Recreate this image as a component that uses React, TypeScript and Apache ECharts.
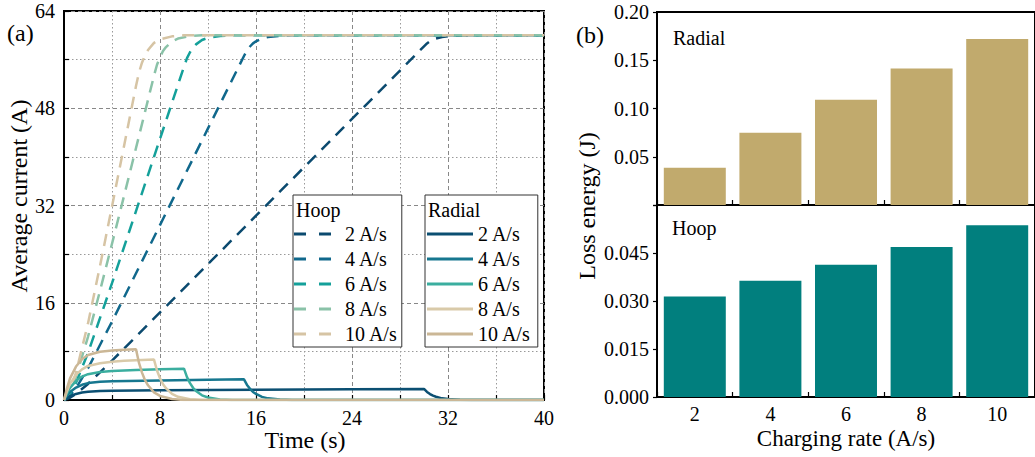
import React, { useEffect, useRef } from "react";
import * as echarts from "echarts";

const FONT = "'Liberation Serif', 'Times New Roman', Tinos, 'DejaVu Serif', serif";

// Left panel (a): time in s, average current in A
const rateLabels = ["2 A/s", "4 A/s", "6 A/s", "8 A/s", "10 A/s"];

const hoop2: number[][] = [[0,0],[0.5,0.36],[1,1.0],[2,2.64],[4,6.47],[8,14.4],[16,30.32],[24,46.24],[30,58.18],[30.25,58.67],[30.5,59.02],[30.75,59.29],[31,59.47],[31.5,59.73],[32,59.85],[33,59.96],[34,60],[40,60]];
const hoop4: number[][] = [[0,0],[0.5,0.7],[1,1.95],[2,5.22],[4,12.9],[8,28.78],[12,44.68],[15,56.6],[15.25,57.52],[15.5,58.16],[15.75,58.67],[16,59.01],[16.5,59.49],[17,59.73],[18,59.93],[19,60],[40,60]];
const hoop6: number[][] = [[0,0],[0.5,1.0],[1,2.85],[2,7.75],[4,19.22],[6,31.08],[8,42.96],[10,54.85],[10.25,56.24],[10.5,57.22],[10.75,57.99],[11,58.51],[11.5,59.23],[12,59.59],[13,59.9],[14,60],[40,60]];
const hoop8: number[][] = [[0,0],[0.5,1.35],[1,3.85],[2,10.4],[3,17.95],[4,25.7],[5,33.55],[6,41.45],[7.5,53.35],[7.75,55.15],[8,56.41],[8.25,57.41],[8.5,58.07],[9,59.0],[9.5,59.47],[10.5,59.87],[11.5,60],[40,60]];
const hoop10: number[][] = [[0,0],[0.5,1.45],[1,4.5],[2,12.6],[3,22.05],[4,31.85],[5,41.75],[6,51.65],[6.25,53.9],[6.5,55.49],[6.75,56.74],[7,57.58],[7.5,58.75],[8,59.33],[9,59.83],[10,60],[40,60]];

const radial2: number[][] = [[0,0],[0.25,0.35],[0.5,0.64],[1,1.0],[1.5,1.22],[2,1.36],[3,1.48],[4,1.53],[8,1.6],[16,1.68],[24,1.76],[30,1.82],[30.25,1.33],[30.5,0.98],[30.75,0.71],[31,0.53],[31.5,0.27],[32,0.15],[33,0.04],[34,0],[40,0]];
const radial4: number[][] = [[0,0],[0.25,0.72],[0.5,1.3],[1,2.05],[1.5,2.5],[2,2.78],[3,3.0],[4,3.1],[8,3.22],[12,3.32],[15,3.4],[15.25,2.48],[15.5,1.84],[15.75,1.33],[16,0.99],[16.5,0.51],[17,0.27],[18,0.07],[19,0],[40,0]];
const radial6: number[][] = [[0,0],[0.25,1.1],[0.5,2.0],[1,3.15],[1.5,3.85],[2,4.25],[3,4.62],[4,4.78],[6,4.92],[8,5.04],[10,5.15],[10.25,3.76],[10.5,2.78],[10.75,2.01],[11,1.49],[11.5,0.77],[12,0.41],[13,0.1],[14,0],[40,0]];
const radial8: number[][] = [[0,0],[0.25,1.45],[0.5,2.65],[1,4.15],[1.5,5.05],[2,5.6],[3,6.05],[4,6.3],[5,6.45],[6,6.55],[7.5,6.65],[7.75,4.85],[8,3.59],[8.25,2.59],[8.5,1.93],[9,1.0],[9.5,0.53],[10.5,0.13],[11.5,0],[40,0]];
const radial10: number[][] = [[0,0],[0.25,1.95],[0.5,3.55],[1,5.5],[1.5,6.7],[2,7.4],[3,7.95],[4,8.15],[5,8.25],[6,8.35],[6.25,6.1],[6.5,4.51],[6.75,3.26],[7,2.42],[7.5,1.25],[8,0.67],[9,0.17],[10,0],[40,0]];

const hoopData = [hoop2, hoop4, hoop6, hoop8, hoop10];
const radialData = [radial2, radial4, radial6, radial8, radial10];
const hoopColors = ["#0B4A6F", "#10688C", "#14A09A", "#8AC2A8", "#D6C4A4"];
const radialColors = ["#0B4F72", "#16778F", "#3BAE9F", "#D9CAA9", "#CBB796"];

// Right panel (b): loss energy in J
const chargingRates = ["2", "4", "6", "8", "10"];
const radialLoss = [0.0385, 0.075, 0.109, 0.1415, 0.172];
const hoopLoss = [0.0314, 0.0363, 0.0413, 0.0469, 0.0537];

export default function App() {
  const ref = useRef<HTMLDivElement>(null);
  useEffect(() => {
    if (!ref.current) return;
    const chart = echarts.init(ref.current, undefined, { renderer: "svg" });
    const txt = (size: number) => ({ fontFamily: FONT, fontSize: size, color: "#000" });
    const gtxt = (text: string, size: number, extra: any = {}) => ({
      text, fontFamily: FONT, fontSize: size, fill: "#000", ...extra,
    });

    const hoopNames = rateLabels.map((r) => "Hoop " + r);
    const radialNames = rateLabels.map((r) => "Radial " + r);

    const lineSeries: any[] = [];
    hoopData.forEach((d, i) => {
      lineSeries.push({
        name: hoopNames[i], type: "line", xAxisIndex: 0, yAxisIndex: 0, data: d,
        showSymbol: false, symbol: "none", color: hoopColors[i],
        lineStyle: { width: 2.5, type: [12, 8], color: hoopColors[i] }, z: 2,
      });
    });
    radialData.forEach((d, i) => {
      lineSeries.push({
        name: radialNames[i], type: "line", xAxisIndex: 0, yAxisIndex: 0, data: d,
        showSymbol: false, symbol: "none", color: radialColors[i],
        lineStyle: { width: 2.5, color: radialColors[i] }, z: 3,
      });
    });

    const legendBase = {
      orient: "vertical", itemHeight: 3, itemGap: 5, selectedMode: false,
      backgroundColor: "#fff", borderColor: "#333", borderWidth: 1, borderRadius: 0,
      formatter: (n: string) => n.replace(/^\S+ /, ""),
    };

    const option: any = {
      animation: false,
      backgroundColor: "#fff",
      grid: [
        { left: 64, top: 11, width: 480, height: 389, show: true, borderColor: "#000", borderWidth: 2, backgroundColor: "transparent" },
        { left: 657, top: 12, width: 380, height: 193, show: true, borderColor: "#000", borderWidth: 2, backgroundColor: "transparent" },
        { left: 657, top: 205, width: 380, height: 192, show: true, borderColor: "#000", borderWidth: 2, backgroundColor: "transparent" },
      ],
      xAxis: [
        {
          type: "value", gridIndex: 0, min: 0, max: 40, interval: 8,
          axisLine: { show: true, lineStyle: { color: "#000", width: 2 } },
          axisTick: { show: true, inside: true, length: 5, lineStyle: { color: "#000", width: 1.2 } },
          minorTick: { show: true, splitNumber: 2, length: 5, lineStyle: { color: "#000", width: 1.2 } },
          splitLine: { show: true, lineStyle: { color: "#888", type: [4, 3], width: 1 } },
          minorSplitLine: { show: true, lineStyle: { color: "#999", type: [1.5, 2.5], width: 1 } },
          axisLabel: { ...txt(20), margin: 8 },
        },
        {
          type: "category", gridIndex: 1, data: chargingRates,
          axisLine: { show: true, lineStyle: { color: "#000", width: 1.5 } },
          axisTick: { show: true, inside: true, length: 5, lineStyle: { color: "#000", width: 1.2 } },
          axisLabel: { show: false },
        },
        {
          type: "category", gridIndex: 2, data: chargingRates,
          axisLine: { show: true, lineStyle: { color: "#000", width: 2 } },
          axisTick: { show: true, inside: true, length: 5, lineStyle: { color: "#000", width: 1.2 } },
          axisLabel: { ...txt(20), margin: 7 },
        },
      ],
      yAxis: [
        {
          type: "value", gridIndex: 0, min: 0, max: 64, interval: 16,
          axisLine: { show: true, lineStyle: { color: "#000", width: 2 } },
          axisTick: { show: true, inside: true, length: 5, lineStyle: { color: "#000", width: 1.2 } },
          minorTick: { show: true, splitNumber: 2, length: 5, lineStyle: { color: "#000", width: 1.2 } },
          splitLine: { show: true, lineStyle: { color: "#888", type: [4, 3], width: 1 } },
          minorSplitLine: { show: true, lineStyle: { color: "#999", type: [1.5, 2.5], width: 1 } },
          axisLabel: { ...txt(20), margin: 9 },
        },
        {
          type: "value", gridIndex: 1, min: 0, max: 0.2, interval: 0.05,
          axisLine: { show: true, lineStyle: { color: "#000", width: 2 } },
          axisTick: { show: true, inside: false, length: 4, lineStyle: { color: "#000", width: 1.2 } },
          splitLine: { show: false },
          axisLabel: { ...txt(20), margin: 8, formatter: (v: number) => (v < 1e-9 ? "" : v.toFixed(2)) },
        },
        {
          type: "value", gridIndex: 2, min: 0, max: 0.06, interval: 0.015,
          axisLine: { show: true, lineStyle: { color: "#000", width: 2 } },
          axisTick: { show: true, inside: false, length: 4, lineStyle: { color: "#000", width: 1.2 } },
          splitLine: { show: false },
          axisLabel: { ...txt(20), margin: 8, formatter: (v: number) => (v > 0.0599 ? "" : v.toFixed(3)) },
        },
      ],
      legend: [
        {
          ...legendBase, left: 293, top: 195, itemWidth: 37,
          data: hoopNames.map((n) => ({ name: n, icon: "path://M0,0H12V3H0Z M25,0H37V3H25Z" })),
          padding: [29, 4, 3, 1],
          textStyle: { ...txt(20), lineHeight: 20, padding: [0, 0, 0, 9] },
        },
        {
          ...legendBase, left: 425, top: 195, itemWidth: 46,
          data: radialNames.map((n) => ({ name: n, icon: "rect" })),
          padding: [29, 7, 3, 2],
          textStyle: { ...txt(20), lineHeight: 20 },
        },
      ],
      graphic: [
        { type: "text", x: 7, y: 33, z: 10, style: gtxt("(a)", 24, { textVerticalAlign: "middle" }) },
        { type: "text", x: 576, y: 35, z: 10, style: gtxt("(b)", 24, { textVerticalAlign: "middle" }) },
        { type: "text", x: 296, y: 210, z: 100, style: gtxt("Hoop", 20, { textAlign: "left", textVerticalAlign: "middle" }) },
        { type: "text", x: 428, y: 210, z: 100, style: gtxt("Radial", 20, { textAlign: "left", textVerticalAlign: "middle" }) },
        { type: "text", x: 673, y: 38, z: 10, style: gtxt("Radial", 20, { textAlign: "left", textVerticalAlign: "middle" }) },
        { type: "text", x: 672, y: 228, z: 10, style: gtxt("Hoop", 20, { textAlign: "left", textVerticalAlign: "middle" }) },
        { type: "text", x: 305, y: 440, z: 10, style: gtxt("Time (s)", 24, { textAlign: "center", textVerticalAlign: "middle" }) },
        { type: "text", x: 846, y: 438, z: 10, style: gtxt("Charging rate (A/s)", 23, { textAlign: "center", textVerticalAlign: "middle" }) },
        { type: "text", x: 19, y: 196, rotation: Math.PI / 2, z: 10, style: gtxt("Average current (A)", 24, { textAlign: "center", textVerticalAlign: "middle" }) },
        { type: "text", x: 587, y: 206, rotation: Math.PI / 2, z: 10, style: gtxt("Loss energy (J)", 24, { textAlign: "center", textVerticalAlign: "middle" }) },
      ],
      series: [
        ...lineSeries,
        {
          name: "Radial loss", type: "bar", xAxisIndex: 1, yAxisIndex: 1, data: radialLoss,
          barCategoryGap: "18%", itemStyle: { color: "#C1AA6D" }, z: 2,
        },
        {
          name: "Hoop loss", type: "bar", xAxisIndex: 2, yAxisIndex: 2, data: hoopLoss,
          barCategoryGap: "18%", itemStyle: { color: "#017F7E" }, z: 2,
        },
      ],
    };
    chart.setOption(option);
    return () => chart.dispose();
  }, []);
  return (
    <div
      ref={ref}
      style={{ position: "fixed", left: 0, top: 0, width: 1035, height: 457, background: "#fff" }}
    />
  );
}
